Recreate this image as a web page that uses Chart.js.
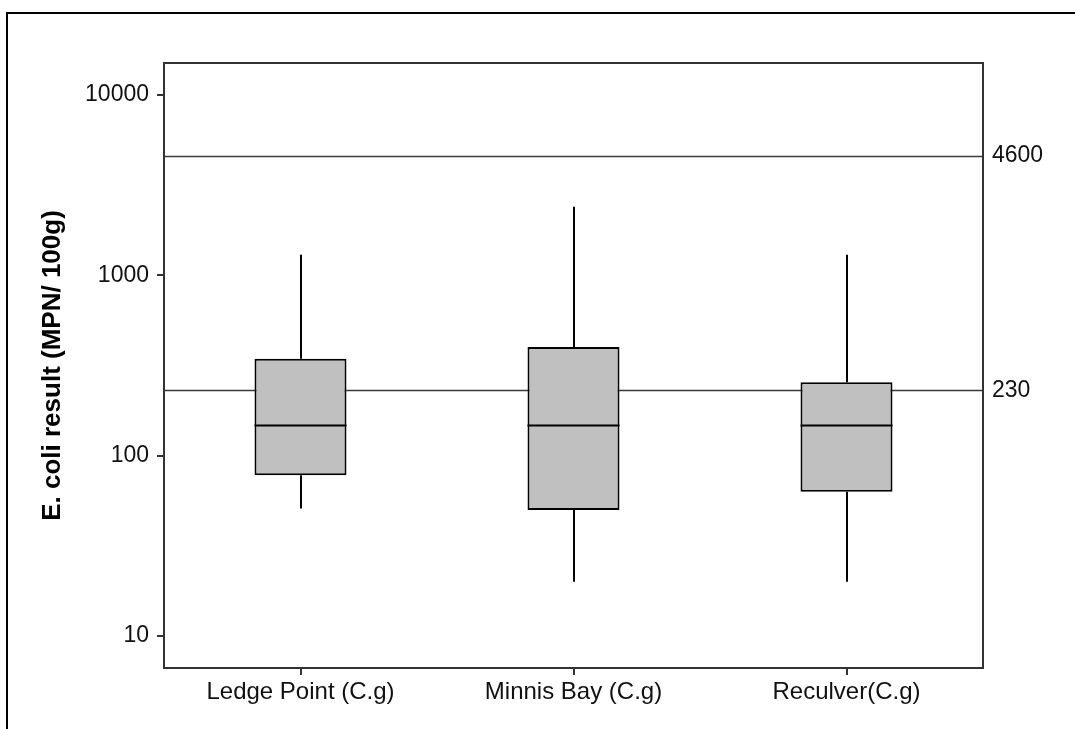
<!DOCTYPE html>
<html>
<head>
<meta charset="utf-8">
<script src="https://cdn.jsdelivr.net/npm/chart.js@4"></script>
<style>
  html, body { margin: 0; padding: 0; background: #fff; }
  #wrap { width: 1075px; height: 729px; position: relative; }
</style>
</head>
<body>
<div id="wrap"><canvas id="chartBox"></canvas></div>
<script>
  // box plot values per site
  var categories = ['Ledge Point (C.g)', 'Minnis Bay (C.g)', 'Reculver(C.g)']
  var whiskerLow = [51, 20, 20]
  var q1 = [78, 50, 63]
  var median = [147, 147, 147]
  var q3 = [345, 400, 255]
  var whiskerHigh = [1300, 2400, 1300]
  var refLines = [230, 4600]
  var yTicks = [10, 100, 1000, 10000]

  var boxes = categories.map(function (c, i) { return [q1[i], q3[i]] })

  var boxPlot = {
    id: 'boxPlot',
    beforeDraw: function (chart) {
      var ctx = chart.ctx
      ctx.save()
      ctx.fillStyle = '#fff'
      ctx.fillRect(0, 0, chart.width, chart.height)
      ctx.restore()
    },
    beforeDatasetsDraw: function (chart) {
      var ctx = chart.ctx, a = chart.chartArea, y = chart.scales.y
      ctx.save()
      ctx.strokeStyle = '#3a3a3a'
      ctx.lineWidth = 1.5
      refLines.forEach(function (v) {
        var py = Math.round(y.getPixelForValue(v)) + 0.5
        ctx.beginPath()
        ctx.moveTo(a.left, py)
        ctx.lineTo(a.right, py)
        ctx.stroke()
      })
      ctx.restore()
    },
    afterDatasetsDraw: function (chart) {
      var ctx = chart.ctx, y = chart.scales.y
      var meta = chart.getDatasetMeta(0)
      ctx.save()
      ctx.strokeStyle = '#000'
      ctx.lineWidth = 2
      meta.data.forEach(function (bar, i) {
        var x = Math.round(bar.x)
        var half = bar.width / 2
        ctx.beginPath()
        ctx.moveTo(x, y.getPixelForValue(q3[i]))
        ctx.lineTo(x, y.getPixelForValue(whiskerHigh[i]))
        ctx.moveTo(x, y.getPixelForValue(q1[i]))
        ctx.lineTo(x, y.getPixelForValue(whiskerLow[i]))
        ctx.moveTo(bar.x - half, y.getPixelForValue(median[i]))
        ctx.lineTo(bar.x + half, y.getPixelForValue(median[i]))
        ctx.stroke()
      })
      ctx.restore()
    },
    afterDraw: function (chart) {
      var ctx = chart.ctx, a = chart.chartArea
      ctx.save()
      ctx.strokeStyle = '#333'
      ctx.lineWidth = 2
      ctx.strokeRect(a.left, a.top, a.right - a.left, a.bottom - a.top)
      // outer figure frame
      ctx.strokeStyle = '#000'
      ctx.beginPath()
      ctx.moveTo(7, chart.height)
      ctx.lineTo(7, 13)
      ctx.lineTo(chart.width, 13)
      ctx.stroke()
      ctx.restore()
    }
  }

  var tickFont = { family: 'Liberation Sans', size: 23 }

  new Chart(document.getElementById('chartBox'), {
    type: 'bar',
    data: {
      labels: categories,
      datasets: [{
        data: boxes,
        backgroundColor: '#c0c0c0',
        borderColor: '#000',
        borderWidth: 2,
        borderSkipped: false,
        categoryPercentage: 1,
        barPercentage: 0.337
      }]
    },
    options: {
      responsive: true,
      maintainAspectRatio: false,
      animation: false,
      layout: { padding: { left: 0, top: 63, right: 0, bottom: 0 } },
      plugins: {
        legend: { display: false },
        tooltip: { enabled: false }
      },
      scales: {
        x: {
          offset: true,
          grid: { offset: false, drawOnChartArea: false, drawTicks: true, tickLength: 7, color: '#333', lineWidth: 2 },
          border: { display: true, color: '#333', width: 2 },
          ticks: { color: '#111', font: { family: 'Liberation Sans', size: 24 }, padding: 3, maxRotation: 0 },
          afterFit: function (s) { s.height = 61 }
        },
        y: {
          type: 'logarithmic',
          position: 'left',
          min: 6.65,
          max: 15030,
          afterBuildTicks: function (s) { s.ticks = yTicks.map(function (v) { return { value: v } }) },
          grid: { drawOnChartArea: false, drawTicks: true, tickLength: 7, color: '#333', lineWidth: 2 },
          border: { display: true, color: '#333', width: 2 },
          ticks: { color: '#111', font: tickFont, padding: 8, callback: function (v) { return String(v) } },
          title: {
            display: true,
            text: 'E. coli result (MPN/ 100g)',
            color: '#000',
            font: { family: 'Liberation Sans', size: 26, weight: 'bold' },
            padding: { top: 37, bottom: 0 }
          },
          afterFit: function (s) { s.width = 164 }
        },
        y2: {
          type: 'logarithmic',
          position: 'right',
          min: 6.65,
          max: 15030,
          afterBuildTicks: function (s) { s.ticks = refLines.map(function (v) { return { value: v } }) },
          grid: { drawOnChartArea: false, drawTicks: false },
          border: { display: true, color: '#333', width: 2 },
          ticks: { color: '#111', font: tickFont, padding: 9, callback: function (v) { return String(v) } },
          afterFit: function (s) { s.width = 92 }
        }
      }
    },
    plugins: [boxPlot]
  })
</script>
</body>
</html>
